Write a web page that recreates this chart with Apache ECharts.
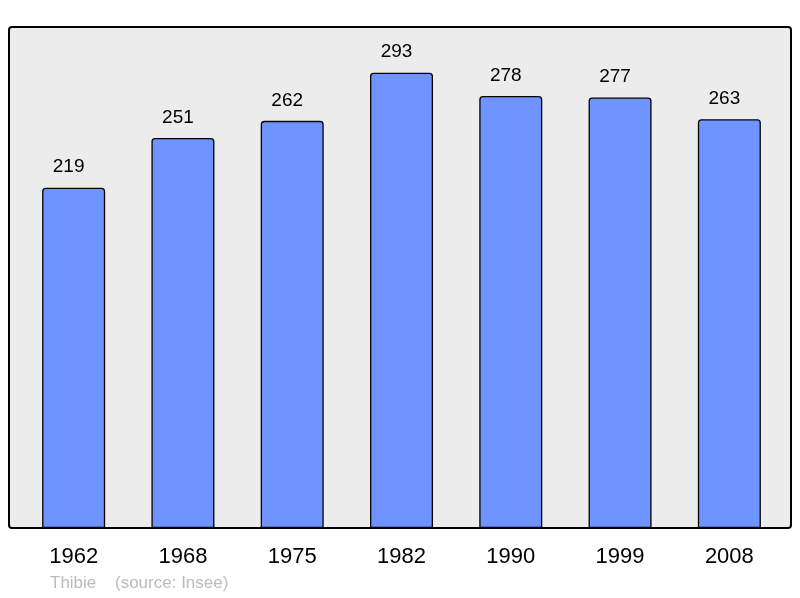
<!DOCTYPE html>
<html><head><meta charset="utf-8">
<script src="https://cdn.jsdelivr.net/npm/echarts@6/dist/echarts.min.js"></script>
<style>html,body{margin:0;padding:0;background:#fff}#c{width:800px;height:598px}</style>
</head><body><div id="c"></div>
<script>
const categories = ['1962','1968','1975','1982','1990','1999','2008'];
const population = [219,251,262,293,278,277,263];
const sourceAuthor = 'Thibie';
const sourceText = '(source: Insee)';

const chart = echarts.init(document.getElementById('c'), null, {renderer:'canvas'});
chart.setOption({
  animation:false,
  backgroundColor:'#ffffff',
  grid:{left:19,right:16,top:27,bottom:70,containLabel:false},
  graphic:[
    {type:'rect',z:-10,shape:{x:9,y:27,width:782,height:501,r:3},
     style:{fill:'#ececec',stroke:'#000',lineWidth:2}},
    {type:'text',left:50,top:575,style:{text:sourceAuthor,fill:'#bbbbbb',font:'17px "Liberation Sans", Arial, sans-serif'}},
    {type:'text',left:115,top:575,style:{text:sourceText,fill:'#bbbbbb',font:'17px "Liberation Sans", Arial, sans-serif'}}
  ],
  xAxis:{type:'category',data:categories,
    axisLine:{show:false},axisTick:{show:false},
    axisLabel:{color:'#000',fontSize:22,fontFamily:'Liberation Sans',margin:18}},
  yAxis:{type:'value',min:0,max:322.4,show:false,splitLine:{show:false}},
  series:[{type:'bar',data:population,barWidth:63,
    itemStyle:{color:'#7094ff',borderColor:'#000',borderWidth:1.3,borderRadius:[3,3,0,0]},
    label:{show:true,position:'top',distance:11,offset:[-5,0],color:'#000',fontSize:19,fontFamily:'Liberation Sans'}}]
});
</script></body></html>
